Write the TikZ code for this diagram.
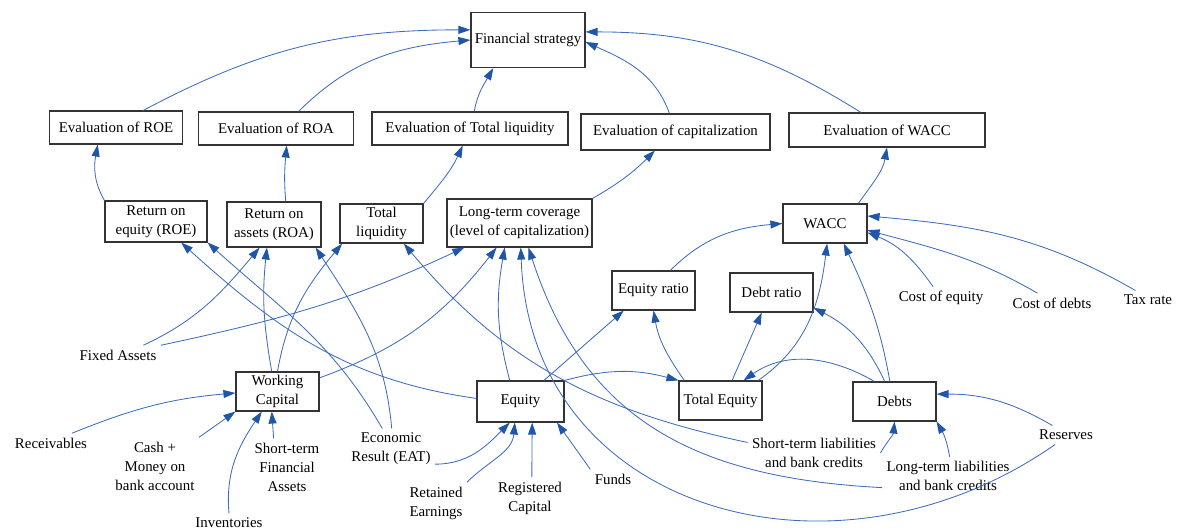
\documentclass[tikz,border=0pt]{standalone}
\usepackage{fontspec}
\setmainfont{Liberation Serif}
\usetikzlibrary{arrows.meta}
\definecolor{linkblue}{RGB}{62,108,188}
\definecolor{tipblue}{RGB}{31,86,168}

\begin{document}
\begin{tikzpicture}[x=0.025cm,y=-0.025cm,
  every node/.style={font=\fontsize{10.6}{13.5}\selectfont},
  box/.style={draw=black!80,line width=0.8pt,align=center,inner sep=1pt,minimum width=2.075cm,minimum height=0.975cm},
  lbl/.style={align=center,inner sep=3pt},
  link/.style={linkblue,line width=0.6pt,-{Triangle[length=0.3cm,width=0.2cm,color=tipblue]}}]
\useasboundingbox (0,0) rectangle (1180,532);

% Top level and evaluations
\node[box,minimum width=2.85cm,minimum height=1.375cm] (fs) at (528,40) {Financial strategy};
\node[box,minimum width=3.325cm,minimum height=0.825cm] (evroe) at (116,127.5) {Evaluation of ROE};
\node[box,minimum width=3.875cm,minimum height=0.825cm] (evroa) at (276,128.5) {Evaluation of ROA};
\node[box,minimum width=4.9cm,minimum height=0.825cm] (evtl) at (470,128.5) {Evaluation of Total liquidity};
\node[box,minimum width=4.725cm,minimum height=0.9cm] (evcap) at (675.5,132) {Evaluation of capitalization};
\node[box,minimum width=4.9cm,minimum height=0.85cm] (evwacc) at (887,130) {Evaluation of WACC};

% Indicators
\node[box,minimum width=2.55cm,minimum height=1.025cm] (roe) at (156,221.5) {Return on\\equity (ROE)};
\node[box,minimum width=2.35cm,minimum height=1.125cm] (roa) at (274,224.5) {Return on\\assets (ROA)};
\node[box] (tl) at (381.5,223.5) {Total\\liquidity};
\node[box,minimum width=3.625cm,minimum height=1.2cm] (ltc) at (519.5,223) {Long-term coverage\\(level of capitalization)};
\node[box,minimum width=2.1cm] (wacc) at (825,223.5) {WACC};
\node[box] (eqr) at (653.5,290.5) {Equity ratio};
\node[box] (debtr) at (771.5,292.5) {Debt ratio};

% Balance sheet items
\node[box] (wc) at (277.5,391.5) {Working\\Capital};
\node[box,minimum width=2.175cm,minimum height=1.025cm] (eq) at (520.5,401.5) {Equity};
\node[box] (te) at (720.5,400.5) {Total Equity};
\node[box] (debts) at (894.5,401.5) {Debts};

% Inputs
\node[lbl] (fixed) at (118,355) {Fixed Assets};
\node[lbl] (recv) at (51,443) {Receivables};
\node[lbl] (cash) at (155,466) {Cash +\\Money on\\bank account};
\node[lbl] (inv) at (229,523) {Inventories};
\node[lbl] (stfa) at (287,467) {Short-term\\Financial\\Assets};
\node[lbl] (eat) at (391,449) {Economic\\Result (EAT)};
\node[lbl] (ret) at (436,503) {Retained\\Earnings};
\node[lbl] (reg) at (530,498) {Registered\\Capital};
\node[lbl] (funds) at (613,479) {Funds};
\node[lbl] (stl) at (814,453) {Short-term liabilities\\and bank credits};
\node[lbl] (ltl) at (948,476) {Long-term liabilities\\and bank credits};
\node[lbl] (res) at (1066,435) {Reserves};
\node[lbl] (coe) at (941,298) {Cost of equity};
\node[lbl] (cod) at (1052,303) {Cost of debts};
\node[lbl] (tax) at (1148,300) {Tax rate};

% Evaluations -> strategy
\draw[link] (evroe.32) to[out=28,in=180] (fs.170);
\draw[link] (evroa.37) to[out=45,in=185] (fs.west);
\draw[link] (evtl.76) to[out=80,in=240] (fs.219);
\draw[link] (evcap.108) to[out=110,in=-24] (fs.-2);
\draw[link] (evwacc.146) to[out=148,in=0] (fs.8);

% Indicators -> evaluations
\draw[link] (roe.north west) to[out=120,in=-100] (evroe.223);
\draw[link] (roa.63) to[out=95,in=-95] (evroa.-58);
\draw[link] (tl.north east) to[out=50,in=-115] (evtl.247);
\draw[link] (ltc.north east) to[out=30,in=-135] (evcap.222);
\draw[link] (wacc.31) to[out=55,in=-100] (evwacc.south);

% WACC
\draw[link] (eqr.50) to[out=45,in=185] (wacc.west);
\draw[link] (te.28) to[out=35,in=-97] (wacc.-84);
\draw[link] (debts.103) to[out=100,in=-65] (wacc.-47);
\draw[link] (tax.143) to[out=150,in=-5] (wacc.10);
\draw[link] (cod.146) to[out=150,in=-15] (wacc.-9);
\draw[link] (coe.125) to[out=125,in=-22] (wacc.-12);

% Ratios and totals
\draw[link] (debts.135) to[out=150,in=35] (te.41);
\draw[link] (te.60) -- (debtr.244);
\draw[link] (debts.116) to[out=115,in=-27] (debtr.-20);
\draw[link] (eq.42) -- (eqr.214);
\draw[link] (te.151) to[out=125,in=-80] (eqr.south);
\draw[link] (eq.north east) to[out=15,in=165] (te.north west);

% Equity
\draw[link] (eq.117) to[out=105,in=-100] (ltc.239);
\draw[link] (eq.176) to[out=172,in=-42] (roe.-40);
\draw[link] (eat.113) to[out=120,in=-42] (roe.south east);
\draw[link] (eat.88) to[out=95,in=-57] (roa.-29);
\draw[link] (eat.-19) to[out=0,in=-135] (eq.243);
\draw[link] (ret.north east) to[out=45,in=-95] (eq.255);
\draw[link] (reg.85) -- (eq.-61);
\draw[link] (funds.north west) -- (eq.-30);

% Assets
\draw[link] (fixed.21) to[out=25,in=-130] (roa.238);
\draw[link] (fixed.north east) to[out=12,in=-155] (ltc.204);
\draw[link] (wc.106) to[out=100,in=-96] (roa.253);
\draw[link] (wc.north) to[out=80,in=-130] (tl.207);
\draw[link] (wc.18) to[out=20,in=-128] (ltc.227);
\draw[link] (recv.25) to[out=22,in=185] (wc.182);
\draw[link] (cash.north east) -- (wc.south west);
\draw[link] (inv.north) to[out=95,in=-124] (wc.232);
\draw[link] (stfa.115) -- (wc.254);

% Liabilities
\draw[link] (stl.171) to[out=168,in=-50] (tl.-42);
\draw[link] (stl.east) to[out=60,in=-95] (debts.south);
\draw[link] (ltl.190) to[out=177,in=-72,looseness=1.1] (ltc.-70);
\draw[link] (ltl.85) to[out=100,in=-60] (debts.south east);
\draw[link] (res.221) to[out=215,in=-88,looseness=1.2] (ltc.-87);
\draw[link] (res.145) to[out=150,in=0] (debts.10);
\end{tikzpicture}
\end{document}
